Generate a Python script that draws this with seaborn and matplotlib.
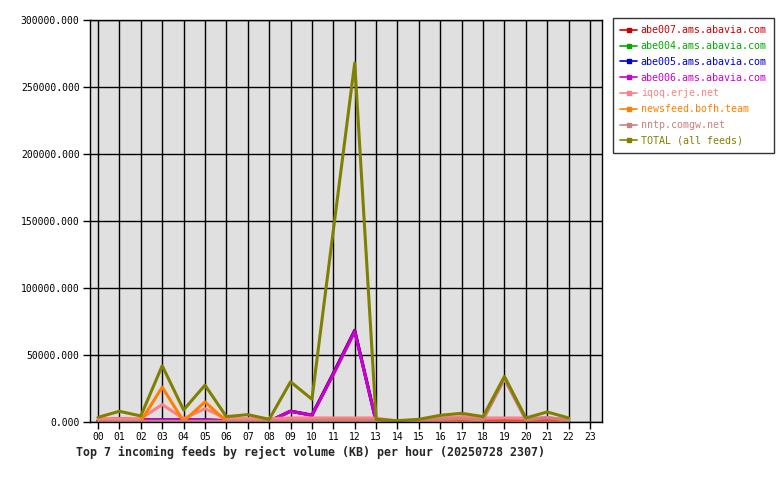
import numpy as np
import pandas as pd
import matplotlib
matplotlib.use("Agg")
import matplotlib.pyplot as plt
import seaborn as sns

hours = [f"{h:02d}" for h in range(24)]
data_hours = list(range(23))

feeds = [
    "abe007.ams.abavia.com",
    "abe004.ams.abavia.com",
    "abe005.ams.abavia.com",
    "abe006.ams.abavia.com",
    "iqoq.erje.net",
    "newsfeed.bofh.team",
    "nntp.comgw.net",
    "TOTAL (all feeds)",
]
colors = ["#cc0000", "#00aa00", "#0000cc", "#cc00cc",
          "#ff8080", "#ff8000", "#cc8080", "#808000"]

abe007 = [1000, 2500, 1500, 1500, 1500, 1500, 1000, 1000, 500, 8200, 5200, 36500, 68500,
          500, 200, 300, 500, 800, 500, 600, 500, 1500, 500]
abe004 = [200, 300, 200, 200, 200, 200, 200, 200, 100, 300, 300, 400, 500,
          100, 100, 100, 100, 100, 100, 100, 100, 100, 100]
abe005 = [1000, 2400, 1500, 1500, 1500, 1500, 1000, 1000, 500, 8000, 5000, 36000, 68000,
          500, 200, 300, 500, 800, 500, 600, 500, 1500, 500]
abe006 = [1000, 2500, 1500, 1500, 1500, 1500, 1000, 1000, 500, 8000, 5000, 35500, 67500,
          500, 200, 300, 500, 800, 500, 600, 500, 1500, 500]
iqoq = [2500, 2500, 2500, 13000, 2500, 10000, 2500, 2500, 2500, 3000, 3000, 3000, 3000,
        3000, 500, 1500, 3000, 4000, 3000, 3000, 3000, 3000, 2000]
newsfeed = [0, 0, 500, 26000, 500, 15000, 500, 0, 0, 0, 0, 0, 0,
            0, 0, 0, 0, 0, 0, 0, 0, 0, 0]
nntp = [500, 500, 500, 500, 500, 500, 500, 500, 500, 1000, 1000, 1500, 1500,
        1000, 500, 1000, 2000, 2500, 1500, 32000, 1500, 3500, 1000]
total = [3500, 8000, 4500, 42000, 9000, 27500, 4000, 5500, 2000, 30000, 17000, 143000, 268000,
         2000, 1000, 2000, 5000, 6500, 4000, 34000, 3000, 7500, 3000]

series = [abe007, abe004, abe005, abe006, iqoq, newsfeed, nntp, total]

rows = []
for name, vals in zip(feeds, series):
    for h, v in zip(data_hours, vals):
        rows.append({"hour": h, "kb": v, "feed": name})
df = pd.DataFrame(rows)

sns.set_theme(style="white")
plt.rcParams["font.family"] = ["DejaVu Sans Mono"]

fig = plt.figure(figsize=(7.8, 4.8), dpi=100)
ax = fig.add_axes([90 / 780, 58 / 480, 512 / 780, 402 / 480])
ax.set_facecolor("#e0e0e0")

sns.lineplot(data=df, x="hour", y="kb", hue="feed", hue_order=feeds,
             palette=dict(zip(feeds, colors)), linewidth=2.2, ax=ax, legend=False)

ax.set_xlim(-0.375, 23.56)
ax.set_ylim(0, 300000)
ax.set_xticks(range(24))
ax.set_xticklabels(hours)
ax.set_yticks(np.arange(0, 300001, 50000))
ax.yaxis.set_major_formatter(matplotlib.ticker.FormatStrFormatter("%.3f"))
ax.grid(True, color="black", linewidth=1)
ax.set_axisbelow(True)
ax.tick_params(axis="both", which="major", length=5, width=1, color="black",
               labelsize=7.0, labelcolor="#000000", direction="out",
               left=True, bottom=True)
ax.tick_params(axis="y", pad=2.5)
ax.tick_params(axis="x", pad=2)
for side in ["left", "bottom", "right", "top"]:
    ax.spines[side].set_color("black")
    ax.spines[side].set_linewidth(1)
ax.set_xlabel("")
ax.set_ylabel("")

fig.text(76 / 780, 1 - 452 / 480,
         "Top 7 incoming feeds by reject volume (KB) per hour (20250728 2307)",
         fontsize=8.35, fontweight="bold", ha="left", va="center")

handles = [matplotlib.lines.Line2D([0, 0.6, 1], [0, 0, 0], color=c, linewidth=1.2,
                                   marker="s", markersize=2.5, markevery=[1])
           for c in colors]
leg = fig.legend(handles, feeds, loc="upper left",
                 bbox_to_anchor=(613 / 780, 1 - 18 / 480),
                 fontsize=7.2, frameon=True, fancybox=False,
                 handlelength=1.7, handletextpad=0.35, labelspacing=0.58,
                 borderpad=0.72, borderaxespad=0)
leg.get_frame().set_edgecolor("black")
leg.get_frame().set_linewidth(1)
for txt, c in zip(leg.get_texts(), colors):
    txt.set_color(c)

fig.savefig("out.png", dpi=100)
